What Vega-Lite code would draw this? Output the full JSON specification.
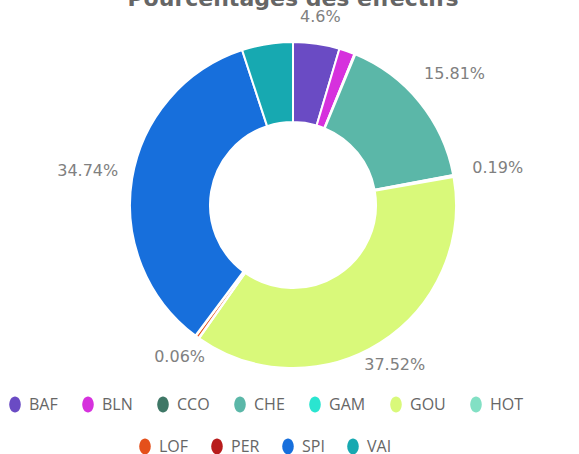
{
  "$schema": "https://vega.github.io/schema/vega-lite/v6.json",
  "autosize": {"type": "none"},
  "width": 586,
  "height": 390,
  "padding": {"left": 0, "top": 10, "right": 0, "bottom": 54},
  "background": "white",
  "title": {"text": "Pourcentages des effectifs", "font": "DejaVu Sans", "fontSize": 22, "fontWeight": "bold", "color": "#666666", "offset": -36.5, "anchor": "middle", "baseline": "alphabetic"},
  "config": {"view": {"stroke": null}},
  "data": {"values": [
    {"cat": "BAF", "pct": 4.6, "label": "4.6%"},
    {"cat": "BLN", "pct": 1.55, "label": "1.55%"},
    {"cat": "CCO", "pct": 0.1, "label": "0.1%"},
    {"cat": "CHE", "pct": 15.81, "label": "15.81%"},
    {"cat": "GAM", "pct": 0.19, "label": "0.19%"},
    {"cat": "GOU", "pct": 37.52, "label": "37.52%"},
    {"cat": "HOT", "pct": 0.05, "label": "0.05%"},
    {"cat": "LOF", "pct": 0.33, "label": "0.33%"},
    {"cat": "PER", "pct": 0.06, "label": "0.06%"},
    {"cat": "SPI", "pct": 34.74, "label": "34.74%"},
    {"cat": "VAI", "pct": 5.05, "label": "5.05%"}
  ]},
  "layer": [
    {
      "mark": {"type": "arc", "outerRadius": 163, "innerRadius": 83, "stroke": "white", "strokeWidth": 2},
      "encoding": {
        "theta": {"field": "pct", "type": "quantitative", "stack": true},
        "order": {"field": "cat", "type": "ordinal"},
        "fill": {
          "field": "cat", "type": "nominal",
          "scale": {
            "domain": ["BAF", "BLN", "CCO", "CHE", "GAM", "GOU", "HOT", "LOF", "PER", "SPI", "VAI"],
            "range": ["#6a4bc4", "#d631dd", "#3e7766", "#5bb7a8", "#2ae5d0", "#d9f97a", "#82e0c4", "#e4501b", "#b81c1c", "#176fdc", "#17a9b1"]
          },
          "legend": {
            "values": ["BAF", "BLN", "CCO", "CHE", "GAM", "GOU", "HOT"],
            "orient": "none", "legendX": 7, "legendY": 386, "direction": "horizontal", "title": null,
            "symbolType": "M-0.72,0A0.72,1 0 1,1 0.72,0A0.72,1 0 1,1 -0.72,0Z",
            "symbolSize": 256, "symbolStrokeWidth": 0,
            "labelFont": "Open Sans", "labelFontSize": 16, "labelColor": "#666666",
            "labelOffset": 6, "columnPadding": 22
          }
        }
      }
    },
    {
      "mark": {"type": "text", "radius": 190, "font": "DejaVu Sans", "fontSize": 16, "color": "#808080", "align": "center", "baseline": "middle"},
      "encoding": {
        "theta": {"field": "pct", "type": "quantitative", "stack": true},
        "order": {"field": "cat", "type": "ordinal"},
        "detail": {"field": "cat", "type": "nominal"},
        "text": {"condition": {"test": "indexof(['BAF','GOU','PER'], datum.cat) >= 0", "field": "label", "type": "nominal"}, "value": ""}
      }
    },
    {
      "mark": {"type": "text", "radius": 208, "font": "DejaVu Sans", "fontSize": 16, "color": "#808080", "align": "center", "baseline": "middle"},
      "encoding": {
        "theta": {"field": "pct", "type": "quantitative", "stack": true},
        "order": {"field": "cat", "type": "ordinal"},
        "detail": {"field": "cat", "type": "nominal"},
        "text": {"condition": {"test": "indexof(['CHE','GAM','SPI'], datum.cat) >= 0", "field": "label", "type": "nominal"}, "value": ""}
      }
    },
    {
      "transform": [{"filter": "datum.pct < 0"}],
      "mark": {"type": "point", "filled": true, "opacity": 1},
      "encoding": {
        "color": {
          "field": "cat", "type": "nominal",
          "scale": {"domain": ["LOF", "PER", "SPI", "VAI"], "range": ["#e4501b", "#b81c1c", "#176fdc", "#17a9b1"]},
          "legend": {
            "orient": "none", "legendX": 137, "legendY": 428, "direction": "horizontal", "title": null,
            "symbolType": "M-0.72,0A0.72,1 0 1,1 0.72,0A0.72,1 0 1,1 -0.72,0Z",
            "symbolSize": 256, "symbolStrokeWidth": 0, "symbolOpacity": 1,
            "labelFont": "Open Sans", "labelFontSize": 16, "labelColor": "#666666",
            "labelOffset": 6, "columnPadding": 20
          }
        }
      }
    }
  ]
}
